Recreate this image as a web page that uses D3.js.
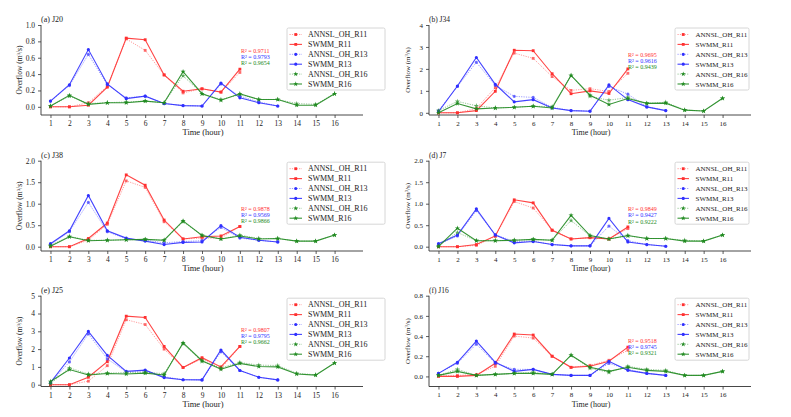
<!DOCTYPE html>
<html><head><meta charset="utf-8">
<script src="https://cdn.jsdelivr.net/npm/d3@7"></script>
<style>
html,body{margin:0;padding:0;background:#fff;}
svg{display:block;font-family:"Liberation Serif","Times New Roman",serif;}
svg text{font-family:"Liberation Serif","Times New Roman",serif;}
</style></head>
<body><svg id="chart" width="791" height="417"></svg>
<script>
const hours = [1,2,3,4,5,6,7,8,9,10,11,12,13,14,15,16];
const seriesNames = ["ANNSL_OH_R11","SWMM_R11","ANNSL_OH_R13","SWMM_R13","ANNSL_OH_R16","SWMM_R16"];
const panelTitles = ["(a) J20","(b) J34","(c) J38","(d) J7","(e) J25","(f) J16"];
const yMaxes = [1.0, 4, 2.0, 2.0, 5, 0.8];
const yTickSteps = [0.2, 1, 0.5, 0.5, 1, 0.2];
const yTickFormats = [".1f", "d", ".1f", ".1f", "d", ".1f"];
const r2Labels = [
  ["R² = 0.9711","R² = 0.9793","R² = 0.9654"],
  ["R² = 0.9695","R² = 0.9616","R² = 0.9439"],
  ["R² = 0.9878","R² = 0.9569","R² = 0.9866"],
  ["R² = 0.9849","R² = 0.9427","R² = 0.9222"],
  ["R² = 0.9807","R² = 0.9795","R² = 0.9662"],
  ["R² = 0.9518","R² = 0.9745","R² = 0.9321"]
];

// (a) J20
const J20_ANN_R11  = [0.00,0.00,0.05,0.25,0.83,0.69,0.39,0.17,0.22,0.18,0.42];
const J20_SWMM_R11 = [0.00,0.00,0.02,0.24,0.84,0.82,0.39,0.19,0.22,0.18,0.46];
const J20_ANN_R13  = [0.07,0.26,0.64,0.27,0.11,0.13,0.04,0.015,0.01,0.28,0.13,0.06,0.01];
const J20_SWMM_R13 = [0.07,0.27,0.70,0.28,0.10,0.13,0.04,0.015,0.01,0.29,0.11,0.05,0.01];
const J20_ANN_R16  = [0.01,0.13,0.04,0.05,0.06,0.07,0.05,0.38,0.16,0.09,0.15,0.09,0.09,0.04,0.03,0.16];
const J20_SWMM_R16 = [0.01,0.14,0.03,0.05,0.05,0.07,0.05,0.43,0.16,0.08,0.16,0.09,0.09,0.02,0.02,0.16];
// (b) J34
const J34_ANN_R11  = [0.00,0.00,0.20,1.15,2.72,2.48,1.65,1.02,1.10,0.97,1.80];
const J34_SWMM_R11 = [0.00,0.00,0.10,0.98,2.85,2.83,1.78,0.87,1.00,0.88,2.00];
const J34_ANN_R13  = [0.10,1.20,2.30,1.25,0.75,0.70,0.25,0.10,0.08,1.20,0.85,0.27,0.10];
const J34_SWMM_R13 = [0.05,1.22,2.52,1.30,0.50,0.60,0.22,0.10,0.07,1.27,0.60,0.27,0.10];
const J34_ANN_R16  = [0.10,0.52,0.32,0.22,0.25,0.30,0.28,1.70,0.75,0.57,0.70,0.43,0.48,0.13,0.08,0.66];
const J34_SWMM_R16 = [0.00,0.42,0.18,0.22,0.25,0.30,0.22,1.70,0.80,0.38,0.65,0.43,0.44,0.12,0.08,0.66];
// (c) J38
const J38_ANN_R11  = [0.00,0.00,0.15,0.52,1.53,1.38,0.58,0.18,0.20,0.20,0.47];
const J38_SWMM_R11 = [0.00,0.00,0.19,0.55,1.67,1.43,0.62,0.18,0.23,0.25,0.47];
const J38_ANN_R13  = [0.05,0.35,1.03,0.35,0.18,0.15,0.09,0.12,0.14,0.45,0.20,0.15,0.11];
const J38_SWMM_R13 = [0.07,0.37,1.19,0.37,0.20,0.13,0.05,0.10,0.11,0.49,0.22,0.15,0.11];
const J38_ANN_R16  = [0.03,0.24,0.15,0.15,0.16,0.17,0.15,0.58,0.27,0.18,0.27,0.19,0.19,0.13,0.13,0.27];
const J38_SWMM_R16 = [0.01,0.23,0.14,0.15,0.16,0.17,0.15,0.60,0.26,0.18,0.25,0.18,0.19,0.13,0.13,0.27];
// (d) J7
const J7_ANN_R11   = [0.00,0.00,0.03,0.24,1.05,0.90,0.39,0.18,0.21,0.18,0.42];
const J7_SWMM_R11  = [0.00,0.00,0.05,0.25,1.09,1.02,0.38,0.18,0.21,0.18,0.46];
const J7_ANN_R13   = [0.05,0.25,0.84,0.28,0.12,0.13,0.05,0.02,0.02,0.48,0.14,0.05,0.01];
const J7_SWMM_R13  = [0.07,0.27,0.88,0.27,0.09,0.12,0.05,0.02,0.02,0.66,0.11,0.05,0.01];
const J7_ANN_R16   = [0.02,0.33,0.14,0.14,0.15,0.17,0.15,0.61,0.25,0.18,0.25,0.19,0.19,0.15,0.13,0.27];
const J7_SWMM_R16  = [0.00,0.43,0.14,0.14,0.15,0.17,0.15,0.73,0.26,0.18,0.26,0.19,0.19,0.13,0.13,0.27];
// (e) J25
const J25_ANN_R11  = [0.00,0.00,0.20,1.07,3.65,3.38,2.00,0.97,1.45,0.90,2.15];
const J25_SWMM_R11 = [0.00,0.00,0.42,1.30,3.85,3.78,2.15,0.97,1.52,1.00,2.15];
const J25_ANN_R13  = [0.10,1.28,2.85,1.45,0.72,0.78,0.45,0.28,0.27,1.85,0.80,0.42,0.27];
const J25_SWMM_R13 = [0.12,1.50,3.00,1.65,0.75,0.82,0.40,0.28,0.27,1.95,0.80,0.42,0.27];
const J25_ANN_R16  = [0.05,0.95,0.60,0.65,0.68,0.70,0.62,2.30,1.30,0.95,1.25,1.10,1.08,0.64,0.56,1.22];
const J25_SWMM_R16 = [0.18,0.85,0.55,0.63,0.60,0.65,0.55,2.35,1.35,0.87,1.20,1.02,1.00,0.60,0.54,1.22];
// (f) J16
const J16_ANN_R11  = [0.01,0.01,0.02,0.10,0.40,0.38,0.20,0.09,0.11,0.16,0.26];
const J16_SWMM_R11 = [0.00,0.00,0.01,0.13,0.42,0.41,0.20,0.09,0.10,0.15,0.29];
const J16_ANN_R13  = [0.03,0.13,0.32,0.13,0.07,0.07,0.02,0.01,0.01,0.13,0.07,0.03,0.01];
const J16_SWMM_R13 = [0.03,0.14,0.35,0.14,0.05,0.07,0.02,0.01,0.01,0.15,0.06,0.03,0.01];
const J16_ANN_R16  = [0.01,0.07,0.01,0.02,0.03,0.04,0.02,0.21,0.08,0.04,0.10,0.07,0.06,0.01,0.01,0.05];
const J16_SWMM_R16 = [0.01,0.05,0.01,0.02,0.03,0.03,0.02,0.21,0.09,0.05,0.09,0.06,0.05,0.01,0.01,0.05];

const panelData = [
  [J20_ANN_R11,J20_SWMM_R11,J20_ANN_R13,J20_SWMM_R13,J20_ANN_R16,J20_SWMM_R16],
  [J34_ANN_R11,J34_SWMM_R11,J34_ANN_R13,J34_SWMM_R13,J34_ANN_R16,J34_SWMM_R16],
  [J38_ANN_R11,J38_SWMM_R11,J38_ANN_R13,J38_SWMM_R13,J38_ANN_R16,J38_SWMM_R16],
  [J7_ANN_R11,J7_SWMM_R11,J7_ANN_R13,J7_SWMM_R13,J7_ANN_R16,J7_SWMM_R16],
  [J25_ANN_R11,J25_SWMM_R11,J25_ANN_R13,J25_SWMM_R13,J25_ANN_R16,J25_SWMM_R16],
  [J16_ANN_R11,J16_SWMM_R11,J16_ANN_R13,J16_SWMM_R13,J16_ANN_R16,J16_SWMM_R16]
];

// styles
const colors = ["#ff3030","#ff3030","#2f2fff","#2f2fff","#208a20","#208a20"];
const dashed = [true,false,true,false,true,false];
const symbols = [d3.symbolSquare,d3.symbolSquare,d3.symbolCircle,d3.symbolCircle,d3.symbolStar,d3.symbolStar];

const svg = d3.select("#chart");
const FONT = "'Liberation Serif','Times New Roman',serif";

const colLeft = [41, 429];
const colRight = [363, 751];
const rowTop = [25, 160.7, 295.7];
const rowBottom = [115, 251, 386.5];
const legendX = [287, 675];
const legendW = [98, 74];
const legendRowTop = [34.5, 168.7, 304.7];
const r2X = [241, 628];
const r2Y = [[50.5,208.5,329.5],[54.5,209,340.5]];

panelData.forEach((series, i) => {
  const col = i % 2, row = Math.floor(i / 2);
  const g = svg.append("g");
  const x = d3.scaleLinear().domain([0.5, 17.5]).range([colLeft[col], colRight[col]]);
  const y = d3.scaleLinear().domain([-0.1, yMaxes[i]]).range([rowBottom[row], rowTop[row]]);
  const fs = col === 0 ? 7.5 : 7;

  const ticks = d3.range(0, yMaxes[i] + 1e-9, yTickSteps[i]);
  const yAxis = d3.axisLeft(y).tickValues(ticks).tickFormat(d3.format(yTickFormats[i])).tickSize(3).tickPadding(3);
  const xAxis = d3.axisBottom(x).tickValues(hours).tickFormat(d3.format("d")).tickSize(3).tickPadding(3);

  const ya = g.append("g").attr("transform", `translate(${colLeft[col]},0)`).call(yAxis);
  const xa = g.append("g").attr("transform", `translate(0,${rowBottom[row]})`).call(xAxis);
  [ya, xa].forEach(a => {
    a.attr("font-family", FONT);
    a.select(".domain").attr("stroke", "#333").attr("stroke-width", 0.9);
    a.selectAll(".tick line").attr("stroke", "#333").attr("stroke-width", 0.8);
    a.selectAll("text").attr("font-family", FONT).attr("font-size", fs).attr("fill", "#222");
  });
  ya.select(".domain").attr("d", `M-0,${rowBottom[row]}V${y(yMaxes[i])}`);
  xa.select(".domain").attr("d", `M${colLeft[col]},0H${colRight[col]}`);

  // labels
  g.append("text").attr("x", colLeft[col]).attr("y", rowTop[row] - 3).attr("font-family", FONT)
    .attr("font-size", fs + 0.5).attr("fill", "#222").text(panelTitles[i]);
  g.append("text").attr("x", (colLeft[col] + colRight[col]) / 2 + 1).attr("y", rowBottom[row] + 20)
    .attr("text-anchor", "middle").attr("font-family", FONT).attr("font-size", fs + 1).attr("fill", "#222").text("Time (hour)");
  const ylx = colLeft[col] - 19, yly = (rowTop[row] + rowBottom[row]) / 2;
  const yl = g.append("text").attr("transform", `translate(${ylx},${yly}) rotate(-90)`)
    .attr("text-anchor", "middle").attr("font-family", FONT).attr("font-size", fs).attr("fill", "#222");
  yl.append("tspan").text("Overflow (m");
  yl.append("tspan").attr("font-size", fs * 0.65).attr("dy", -2.5).text("3");
  yl.append("tspan").attr("dy", 2.5).text("/s)");

  // lines
  series.forEach((vals, k) => {
    const pts = vals.map((v, j) => [hours[j], v]);
    const line = d3.line().x(d => x(d[0])).y(d => y(d[1]));
    g.append("path").attr("d", line(pts)).attr("fill", "none")
      .attr("stroke", colors[k]).attr("stroke-width", dashed[k] ? 0.8 : 1.1)
      .attr("stroke-opacity", dashed[k] ? 0.6 : 0.9)
      .attr("stroke-dasharray", dashed[k] ? "1.2,1.2" : null);
    g.append("g").selectAll("path").data(pts).join("path")
      .attr("transform", d => `translate(${x(d[0])},${y(d[1])})`)
      .attr("d", d3.symbol().type(symbols[k]).size(8))
      .attr("fill", colors[k]).attr("fill-opacity", dashed[k] ? 0.7 : 1);
  });

  // R2 labels
  r2Labels[i].forEach((t, k) => {
    g.append("text").attr("x", r2X[col]).attr("y", r2Y[col][row] + k * 6.2 + 2.2)
      .attr("font-family", FONT).attr("font-size", 6).attr("fill", colors[k * 2]).text(t);
  });

  // legend
  const lt = legendRowTop[row];
  const lg = g.append("g");
  lg.append("rect").attr("x", legendX[col]).attr("y", lt - 6.5).attr("width", legendW[col]).attr("height", 62)
    .attr("fill", "#fff").attr("stroke", "#ccc").attr("stroke-width", 0.8).attr("rx", 1.5);
  seriesNames.forEach((nm, k) => {
    const ly = lt + k * 9.9;
    const x0 = legendX[col] + 2.5, x1 = legendX[col] + (col === 0 ? 15 : 14);
    lg.append("line").attr("x1", x0).attr("x2", x1).attr("y1", ly).attr("y2", ly)
      .attr("stroke", colors[k]).attr("stroke-width", dashed[k] ? 0.8 : 1.1)
      .attr("stroke-opacity", dashed[k] ? 0.6 : 0.9)
      .attr("stroke-dasharray", dashed[k] ? "1.2,1.2" : null);
    lg.append("path").attr("transform", `translate(${(x0 + x1) / 2},${ly})`)
      .attr("d", d3.symbol().type(symbols[k]).size(8)).attr("fill", colors[k]);
    lg.append("text").attr("x", legendX[col] + (col === 0 ? 21 : 20.5)).attr("y", ly + 2.5)
      .attr("font-family", FONT).attr("font-size", col === 0 ? 8 : 7).attr("fill", "#222").text(nm);
  });
});
</script></body></html>
